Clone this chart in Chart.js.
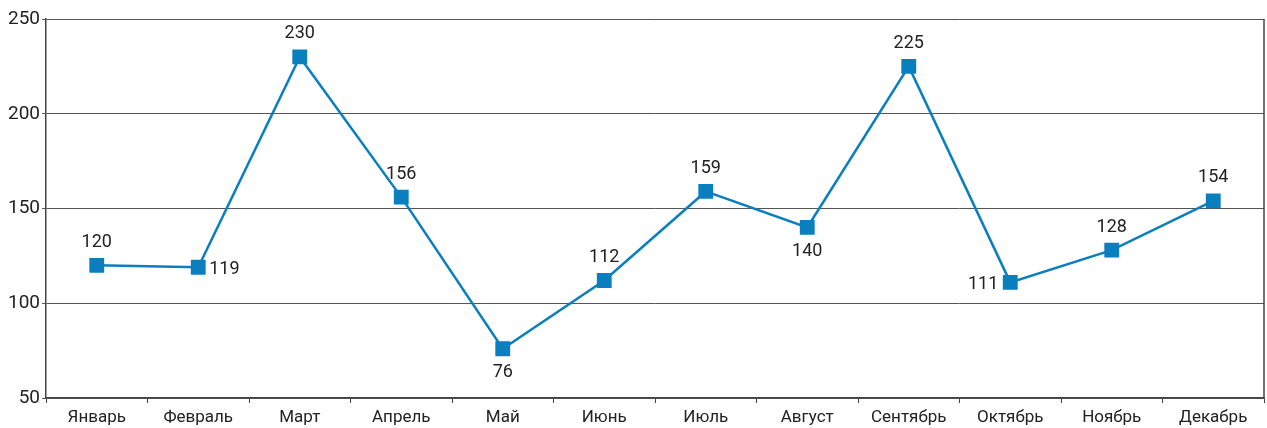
<!DOCTYPE html>
<html>
<head>
<meta charset="utf-8">
<script src="https://cdn.jsdelivr.net/npm/chart.js@4.4.0/dist/chart.umd.min.js"></script>
<style>
  body { margin: 0; background: #fff; }
  #chart { display: block; }
</style>
</head>
<body>
<canvas id="chart" width="1267" height="428"></canvas>
<script>
const months = ['Январь', 'Февраль', 'Март', 'Апрель', 'Май', 'Июнь', 'Июль', 'Август', 'Сентябрь', 'Октябрь', 'Ноябрь', 'Декабрь'];
const values = [120, 119, 230, 156, 76, 112, 159, 140, 225, 111, 128, 154];
// where each value label sits relative to its point
const labelPos = ['top', 'right', 'top', 'top', 'bottom', 'top', 'top', 'bottom', 'top', 'left', 'top', 'top'];
const yTicks = [50, 100, 150, 200, 250];

const FONT = '"Liberation Sans Narrow", Roboto, sans-serif';
const LINE_BLUE = '#0a7fc0';

// value labels next to the markers
const valueLabels = {
    id: 'valueLabels',
    afterDatasetsDraw(chart) {
        const ctx = chart.ctx;
        const meta = chart.getDatasetMeta(0);
        ctx.save();
        ctx.font = '18px ' + FONT;
        ctx.fillStyle = '#222';
        meta.data.forEach((pt, i) => {
            const pos = labelPos[i];
            let x = pt.x, y = pt.y;
            if (pos === 'top') { ctx.textAlign = 'center'; ctx.textBaseline = 'bottom'; y -= 14; }
            else if (pos === 'bottom') { ctx.textAlign = 'center'; ctx.textBaseline = 'top'; y += 15; }
            else if (pos === 'right') { ctx.textAlign = 'left'; ctx.textBaseline = 'middle'; x += 11; y += 2; }
            else { ctx.textAlign = 'right'; ctx.textBaseline = 'middle'; x -= 12; y += 2; }
            ctx.fillText(values[i], x, y);
        });
        ctx.restore();
    }
};

// closing line on the right side of the plot
const rightBorder = {
    id: 'rightBorder',
    beforeDatasetsDraw(chart) {
        const a = chart.chartArea, ctx = chart.ctx;
        ctx.save();
        ctx.strokeStyle = '#444';
        ctx.lineWidth = 1.5;
        ctx.beginPath();
        ctx.moveTo(a.right, a.top);
        ctx.lineTo(a.right, a.bottom);
        ctx.stroke();
        ctx.restore();
    }
};

const ctx = document.getElementById('chart').getContext('2d');
new Chart(ctx, {
    type: 'line',
    data: {
        labels: months,
        datasets: [{
            data: values,
            borderColor: LINE_BLUE,
            borderWidth: 2.5,
            backgroundColor: LINE_BLUE,
            pointStyle: 'rect',
            pointRadius: 10.5,
            pointHoverRadius: 10.5,
            pointBorderWidth: 0,
            tension: 0
        }]
    },
    plugins: [rightBorder, valueLabels],
    options: {
        responsive: false,
        animation: false,
        layout: { autoPadding: false, padding: { top: 19, right: 3, bottom: 0, left: 0 } },
        plugins: { legend: { display: false }, tooltip: { enabled: false } },
        scales: {
            x: {
                offset: true,
                grid: { offset: true, drawOnChartArea: false, drawTicks: true, tickLength: 5, color: '#444' },
                border: { color: '#444', width: 1.5 },
                ticks: { color: '#222', font: { family: FONT, size: 17 }, padding: 5, maxRotation: 0, autoSkip: false },
                afterFit(scale) { scale.height = 30; scale.paddingLeft = 0; scale.paddingRight = 0; }
            },
            y: {
                min: 50,
                max: 250,
                afterBuildTicks(scale) { scale.ticks = yTicks.map(v => ({ value: v })); },
                grid: { color: '#555', lineWidth: 1, drawTicks: true, tickLength: 4 },
                border: { color: '#444', width: 1.5 },
                ticks: { color: '#222', font: { family: FONT, size: 19 }, padding: 2 },
                afterFit(scale) { scale.width = 46; }
            }
        }
    }
});
</script>
</body>
</html>
